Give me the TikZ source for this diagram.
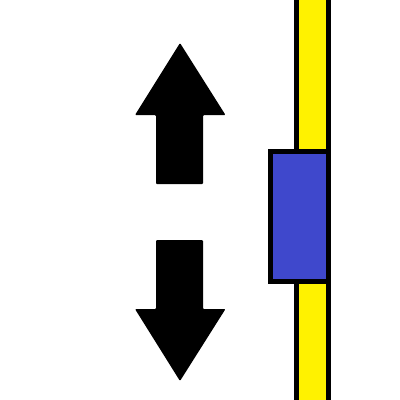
\documentclass[tikz,border=0pt]{standalone}
\usepackage{xcolor}
\usepackage{tikz}
\definecolor{railfill}{HTML}{FFF200}
\definecolor{sliderfill}{HTML}{3F48CC}
\tikzset{
  rail/.style={draw=black, fill=railfill, line width=5pt},
  slider/.style={draw=black, fill=sliderfill, line width=5pt},
  movearrow/.style={fill=black, rounded corners=1pt},
}

\begin{document}
\begin{tikzpicture}[x=1pt, y=-1pt]
  \useasboundingbox (0,0) rectangle (400,400);
  \clip (0,0) rectangle (400,400);

  % rail and slider
  \draw[rail] (296.5,-10) rectangle (328,410);
  \draw[slider] (270.5,151) rectangle (328.5,281.5);

  % up arrow
  \fill[movearrow] (156,184) -- (156,115) -- (135,115) -- (180,43)
    -- (225.5,115) -- (203,115) -- (203,184) -- cycle;

  % down arrow
  \fill[movearrow] (156,240) -- (156,309) -- (135,309) -- (180,381)
    -- (225.5,309) -- (203,309) -- (203,240) -- cycle;
\end{tikzpicture}
\end{document}
